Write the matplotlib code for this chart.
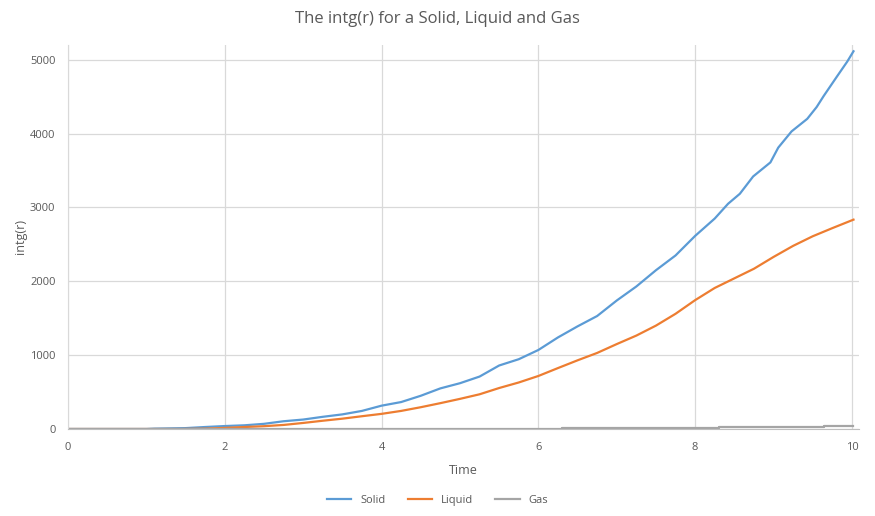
import numpy as np
import matplotlib.pyplot as plt

plt.rcParams['font.family'] = ['Open Sans', 'DejaVu Sans']

# values
solid_t = [0, 1.0, 1.1, 1.5, 1.75, 2.0, 2.25, 2.5, 2.75, 3.0, 3.25, 3.5, 3.75,
           4.0, 4.25, 4.5, 4.75, 5.0, 5.25, 5.5, 5.75, 6.0, 6.25, 6.5, 6.75,
           7.0, 7.25, 7.5, 7.75, 8.0, 8.25, 8.42, 8.57, 8.74, 8.96, 9.06, 9.23,
           9.43, 9.55, 9.64, 9.81, 9.94, 10.02]
solid_v = [0, 0, 5, 12, 27, 40, 50, 70, 105, 128, 165, 198, 245,
           316, 365, 450, 550, 620, 710, 860, 945, 1070, 1240, 1390, 1530,
           1740, 1930, 2150, 2350, 2615, 2850, 3050, 3185, 3420, 3610, 3810, 4030,
           4200, 4360, 4510, 4775, 4975, 5115]

liquid_t = [0, 1.45, 1.75, 2.0, 2.25, 2.5, 2.75, 3.0, 3.25, 3.5, 3.75,
            4.0, 4.25, 4.5, 4.75, 5.0, 5.25, 5.5, 5.75, 6.0, 6.25, 6.5, 6.75,
            7.0, 7.25, 7.5, 7.75, 8.0, 8.25, 8.5, 8.75, 9.0, 9.25, 9.5, 9.75, 10.02]
liquid_v = [0, 0, 5, 15, 27, 38, 55, 82, 112, 140, 173,
            205, 245, 295, 350, 408, 470, 555, 630, 718, 825, 930, 1030,
            1150, 1265, 1400, 1560, 1745, 1910, 2040, 2170, 2330, 2480, 2610, 2720, 2835]

gas_t = [0, 6.3, 8.3, 9.65, 10.02]
gas_v = [0, 12, 28, 45, 45]

fig = plt.figure(figsize=(8.75, 5.16), dpi=100)
ax = fig.add_axes([0.0777, 0.1686, 0.9040, 0.7442])

ax.plot(solid_t, solid_v, color='#5B9BD5', lw=1.6, label='Solid')
ax.plot(liquid_t, liquid_v, color='#ED7D31', lw=1.6, label='Liquid')
ax.plot(gas_t, gas_v, color='#A5A5A5', lw=1.6, drawstyle='steps-post', label='Gas')

ax.set_xlim(0, 10.09)
ax.set_ylim(0, 5200)
ax.set_xticks([0, 2, 4, 6, 8, 10])
ax.set_yticks([0, 1000, 2000, 3000, 4000, 5000])
ax.grid(True, color='#D9D9D9', lw=0.9)
ax.set_axisbelow(True)
for s in ['top', 'right']:
    ax.spines[s].set_visible(False)
ax.spines['left'].set_color('#D9D9D9')
ax.spines['bottom'].set_color('#BFBFBF')
ax.tick_params(length=0, labelsize=8, labelcolor='#595959', pad=9)

ax.set_xlabel('Time', fontsize=9, color='#595959', labelpad=8)
ax.set_ylabel('intg(r)', fontsize=9, color='#595959', labelpad=2)
fig.suptitle('The intg(r) for a Solid, Liquid and Gas', fontsize=12, color='#595959', y=0.978)

fig.legend(loc='lower center', ncol=3, frameon=False, fontsize=8,
           bbox_to_anchor=(0.5, 0.0), handlelength=2.2, columnspacing=2.0,
           labelcolor='#595959')

fig.savefig('out.png')
